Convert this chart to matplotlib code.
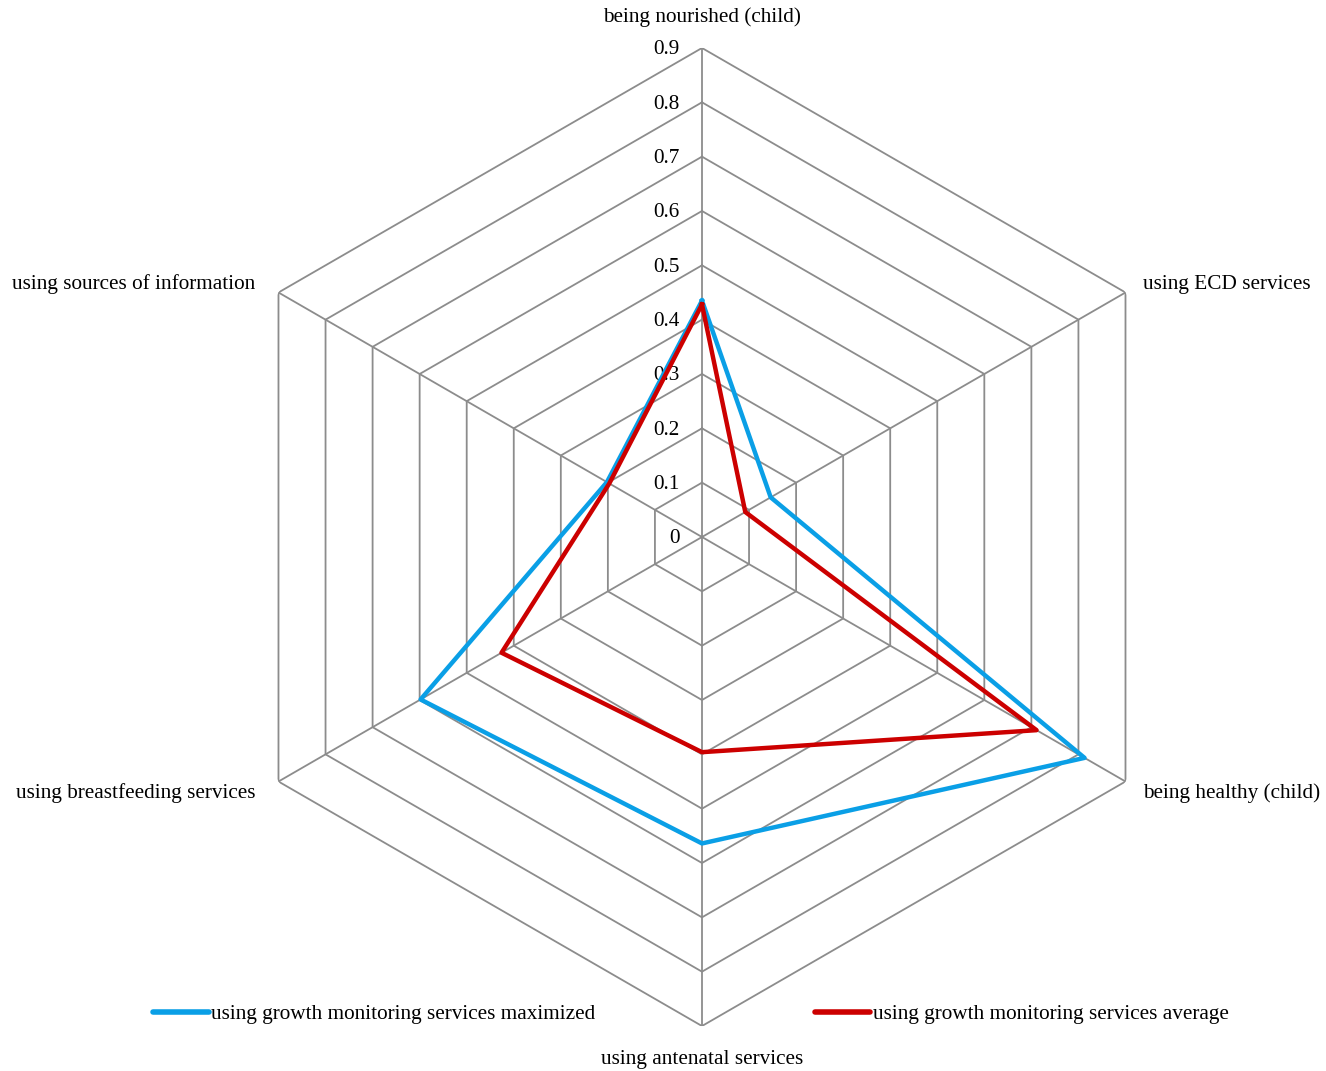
import numpy as np
import matplotlib.pyplot as plt

# Datos del gráfico de radar
categorias = ["being nourished (child)", "using ECD services", "being healthy (child)",
              "using antenatal services", "using breastfeeding services",
              "using sources of information"]
maximizado = [0.435, 0.146, 0.813, 0.564, 0.598, 0.202]
promedio = [0.428, 0.092, 0.711, 0.396, 0.426, 0.197]
niveles = [0, 0.1, 0.2, 0.3, 0.4, 0.5, 0.6, 0.7, 0.8, 0.9]
etiquetas_niveles = ["0", "0.1", "0.2", "0.3", "0.4", "0.5", "0.6", "0.7", "0.8", "0.9"]

plt.rcParams['font.family'] = ['Liberation Serif', 'DejaVu Serif']
tam = 15.3

fig = plt.figure(figsize=(13.26, 10.71), dpi=100)
ax = fig.add_axes([0.1606, 0.042, 0.7376, 0.9132], projection='polar')
ax.set_theta_zero_location('N')
ax.set_theta_direction(-1)
ax.set_ylim(0, 0.9)
ax.grid(False)
ax.spines['polar'].set_visible(False)
ax.set_xticks([])
ax.set_yticks([])
ax.patch.set_alpha(0)

n = len(categorias)
angulos = np.linspace(0, 2 * np.pi, n, endpoint=False)
cerrado = np.append(angulos, angulos[0])

gris = '#8c8c8c'
# Rejilla hexagonal
for r in niveles[1:]:
    ax.plot(cerrado, [r] * (n + 1), color=gris, lw=1.3, zorder=1)
for a in angulos:
    ax.plot([a, a], [0, 0.9], color=gris, lw=1.3, zorder=1)

# Series
ax.plot(cerrado, maximizado + maximizado[:1], color='#0a9fe6', lw=3.2,
        label='using growth monitoring services maximized', zorder=3)
ax.plot(cerrado, promedio + promedio[:1], color='#cc0000', lw=3.2,
        label='using growth monitoring services average', zorder=4)

# Etiquetas de nivel sobre el eje superior
for r, t in zip(niveles, etiquetas_niveles):
    ax.annotate(t, xy=(0, r), xytext=(-22, -2), textcoords='offset pixels',
                ha='right', va='center', fontsize=tam, zorder=2)

# Etiquetas de categorías
desplaz = [(0, 31, 'center'), (18, 8, 'left'), (18, -12, 'left'),
           (0, -33, 'center'), (-23, -12, 'right'), (-23, 8, 'right')]
for a, cat, (dx, dy, ha) in zip(angulos, categorias, desplaz):
    ax.annotate(cat, xy=(a, 0.9), xytext=(dx, dy), textcoords='offset pixels',
                ha=ha, va='center', fontsize=tam, annotation_clip=False)

leg = fig.legend(loc='center', bbox_to_anchor=(691 / 1326, 1 - 1014 / 1071), ncol=2,
                 frameon=False, fontsize=tam, handlelength=2.6, handletextpad=0.14,
                 columnspacing=10.3)
for linea in leg.get_lines():
    linea.set_linewidth(4)
    linea.set_solid_capstyle('round')

fig.savefig('out.png', dpi=100)
